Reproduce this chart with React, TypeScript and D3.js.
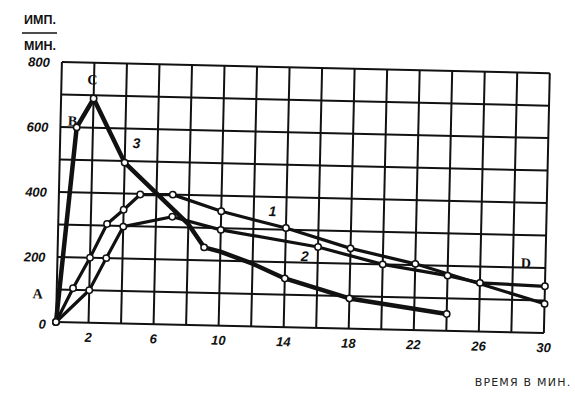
import React from "react";
import * as d3 from "d3";

const curve1X = [0, 1, 2, 3, 4, 5, 7, 10, 14, 18, 22, 30];
const curve1Y = [0, 105, 200, 305, 350, 398, 400, 352, 305, 247, 204, 90];
const curve2X = [0, 2, 3, 4, 7, 10, 16, 20, 24, 26, 30];
const curve2Y = [0, 100, 200, 298, 332, 295, 249, 200, 170, 150, 144];
const curve3X = [0, 1, 2, 4, 8, 9, 10, 12, 14, 18, 24];
const curve3Y = [0, 600, 690, 495, 310, 240, 228, 193, 150, 93, 52];
const curve3Marked = [0, 1, 2, 4, 9, 14, 18, 24];

const xTickLabels = [2, 6, 10, 14, 18, 22, 26, 30];
const yTickLabels = [0, 200, 400, 600, 800];

const annLabels = ["A", "B", "C", "3", "1", "2", "D"];
const annX = [-1.17, 0.74, 1.9, 4.7, 13.15, 15.2, 28.8];
const annY = [85, 619, 747, 556, 356, 220, 214];
const annItalic = [false, false, false, true, true, true, false];

export default function App() {
  const W = 575, H = 398;
  const x = d3.scaleLinear().domain([0, 30]).range([56, 544]);
  const y = d3.scaleLinear().domain([0, 800]).range([322, 62]);
  const line = d3.line<[number, number]>().x(d => x(d[0])).y(d => y(d[1]));

  const c1 = curve1X.map((v, i) => [v, curve1Y[i]] as [number, number]);
  const c2 = curve2X.map((v, i) => [v, curve2Y[i]] as [number, number]);
  const c3 = curve3X.map((v, i) => [v, curve3Y[i]] as [number, number]);
  const c3m = c3.filter(d => curve3Marked.includes(d[0]));

  const vGrid = d3.range(0, 31, 2);
  const hGrid = d3.range(0, 801, 100);
  const tickFont = "'Liberation Sans', Arial, sans-serif";
  const tilt = `rotate(1.3, ${x(0)}, ${y(0)})`;

  return (
    <svg width={W} height={H} style={{ position: "absolute", left: 0, top: 0, background: "#fff" }}>
      <rect x={0} y={0} width={W} height={H} fill="#fff" />
      <g transform={tilt}>
        <g stroke="#111" strokeWidth={2}>
          {vGrid.map(v => (
            <line key={"v" + v} x1={x(v)} x2={x(v)} y1={y(800)} y2={y(0)} />
          ))}
          {hGrid.map(v => (
            <line key={"h" + v} x1={x(0)} x2={x(30)} y1={y(v)} y2={y(v)} />
          ))}
        </g>
        <path d={line(c1) || ""} fill="none" stroke="#111" strokeWidth={3.2} strokeLinejoin="round" />
        <path d={line(c2) || ""} fill="none" stroke="#111" strokeWidth={3.2} strokeLinejoin="round" />
        <path d={line(c3) || ""} fill="none" stroke="#111" strokeWidth={4.5} strokeLinejoin="round" />
        <g fill="#fff" stroke="#111" strokeWidth={1.5}>
          {c1.map((d, i) => <circle key={"m1" + i} cx={x(d[0])} cy={y(d[1])} r={3.2} />)}
          {c2.map((d, i) => <circle key={"m2" + i} cx={x(d[0])} cy={y(d[1])} r={3.2} />)}
          {c3m.map((d, i) => <circle key={"m3" + i} cx={x(d[0])} cy={y(d[1])} r={3.2} />)}
        </g>
        <g fontFamily={tickFont} fontStyle="italic" fontWeight="bold" fontSize={13} fill="#111">
          {xTickLabels.map(v => (
            <text key={"xt" + v} x={x(v)} y={y(0) + 19} textAnchor="middle">{v}</text>
          ))}
          {yTickLabels.map(v => (
            <text key={"yt" + v} x={v === 0 ? 46 : 44} y={v === 0 ? y(v) + 7 : y(v) + 5} textAnchor="end">{v}</text>
          ))}
        </g>
        <g fill="#111">
          {annLabels.map((t, i) => (
            <text
              key={"a" + i}
              x={x(annX[i])}
              y={y(annY[i])}
              textAnchor="middle"
              dominantBaseline="central"
              fontFamily={annItalic[i] ? tickFont : "'Liberation Serif', 'DejaVu Serif', serif"}
              fontStyle={annItalic[i] ? "italic" : "normal"}
              fontWeight="bold"
              fontSize={14}
            >{t}</text>
          ))}
        </g>
      </g>
      <g fontFamily="'Liberation Sans', Arial, sans-serif" fontWeight="bold" fill="#111">
        <text x={40} y={24} textAnchor="middle" fontSize={12.5}>ИМП.</text>
        <line x1={22} x2={57} y1={33} y2={33} stroke="#111" strokeWidth={1.5} />
        <text x={40} y={50} textAnchor="middle" fontSize={12.5}>МИН.</text>
      </g>
      <text x={523} y={386} textAnchor="middle" fontFamily="'DejaVu Sans', sans-serif" fontSize={11} letterSpacing={1.2} fill="#222">ВРЕМЯ В МИН.</text>
    </svg>
  );
}
